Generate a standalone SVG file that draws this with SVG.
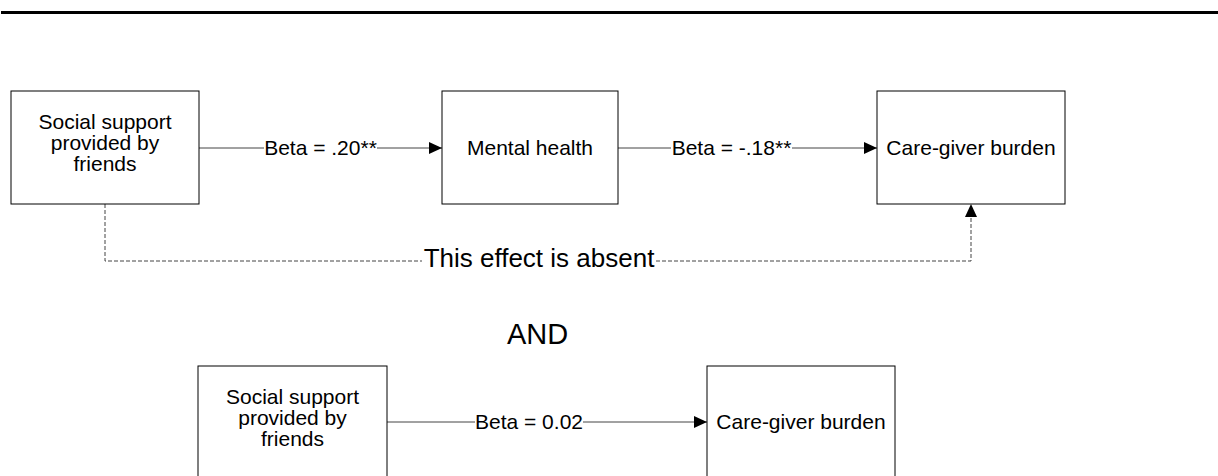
<svg xmlns="http://www.w3.org/2000/svg" width="1218" height="476" viewBox="0 0 1218 476">
<defs>
<style>
.box{fill:#fff;stroke:#000;stroke-width:1}
.t{font-family:"Liberation Sans",Arial,sans-serif;font-size:21px;fill:#000;text-anchor:middle}
.conn{fill:none;stroke:#444;stroke-width:1}
.dash{fill:none;stroke:#444;stroke-width:1;stroke-dasharray:4 2}
</style>
<marker id="arr" viewBox="0 0 13 12" refX="13" refY="6" markerWidth="13" markerHeight="12" markerUnits="userSpaceOnUse" orient="auto">
<path d="M0,0 L13,6 L0,12 Z" fill="#000"/>
</marker>
</defs>
<rect width="1218" height="476" fill="#fff"/>
<line x1="1" y1="12.5" x2="1218" y2="12.5" stroke="#000" stroke-width="3"/>

<g id="connectors">
<path class="conn" d="M199,148 H264"/>
<path class="conn" d="M377,148 H442" marker-end="url(#arr)"/>
<text class="t" x="320.5" y="155">Beta = .20**</text>
<path class="conn" d="M618,148 H671"/>
<path class="conn" d="M792,148 H877" marker-end="url(#arr)"/>
<text class="t" x="731.5" y="155">Beta = -.18**</text>
<path class="dash" d="M105,204 V261 H422"/>
<path class="dash" d="M656,261 H971 V204" marker-end="url(#arr)"/>
<text class="t" x="539" y="267" style="font-size:26px">This effect is absent</text>
<path class="conn" d="M387,422 H475"/>
<path class="conn" d="M583,422 H707" marker-end="url(#arr)"/>
<text class="t" x="529" y="429">Beta = 0.02</text>
</g>

<g id="node-social1">
<rect class="box" x="11" y="91" width="188" height="113"/>
<text class="t" x="105" y="129"><tspan x="105">Social support</tspan><tspan x="105" dy="21">provided by</tspan><tspan x="105" dy="21">friends</tspan></text>
</g>
<g id="node-mental">
<rect class="box" x="442" y="91" width="176" height="113"/>
<text class="t" x="530" y="154.5">Mental health</text>
</g>
<g id="node-burden1">
<rect class="box" x="877" y="91" width="188" height="113"/>
<text class="t" x="971" y="154.5">Care-giver burden</text>
</g>
<g id="and-label">
<text class="t" x="537.5" y="344" style="font-size:29px">AND</text>
</g>
<g id="node-social2">
<rect class="box" x="198" y="366" width="189" height="113"/>
<text class="t" x="292.5" y="404"><tspan x="292.5">Social support</tspan><tspan x="292.5" dy="21">provided by</tspan><tspan x="292.5" dy="21">friends</tspan></text>
</g>
<g id="node-burden2">
<rect class="box" x="707" y="366" width="188" height="113"/>
<text class="t" x="801" y="429">Care-giver burden</text>
</g>
</svg>
